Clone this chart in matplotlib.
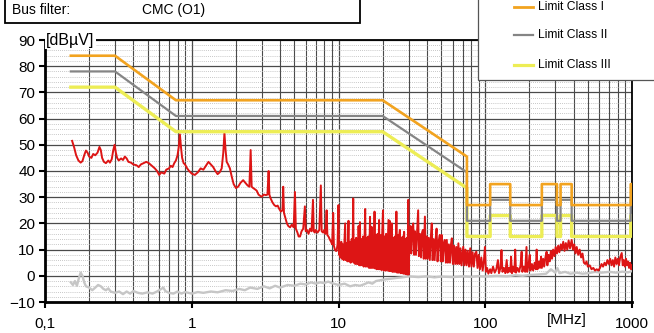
import numpy as np
import matplotlib
matplotlib.use("Agg")
import matplotlib.pyplot as plt
from matplotlib.ticker import FixedLocator, FixedFormatter, LogLocator, MultipleLocator, NullFormatter
from matplotlib.patches import Rectangle
from matplotlib.lines import Line2D

plt.rcParams['font.family'] = ['Liberation Sans', 'DejaVu Sans']

# ---------------- data ----------------
x_ticks = [0.1, 1, 10, 100, 1000]
x_tick_labels = ["0,1", "1", "10", "100", "1000"]
y_ticks = list(range(-10, 91, 10))

# Limit lines (MHz, dBuV)
lim1_f = [0.15, 0.3, 0.78, 20, 75, 75, 108, 108, 148, 148, 243, 243, 308, 308, 326, 326, 388, 388, 980, 980, 1000]
lim1_v = [84, 84, 67, 67, 45.5, 27, 27, 35, 35, 27, 27, 35, 35, 27, 27, 35, 35, 27, 27, 35, 35]
lim2_f = lim1_f
lim2_v = [78, 78, 61, 61, 39.5, 21, 21, 29, 29, 21, 21, 29, 29, 21, 21, 29, 29, 21, 21, 29, 29]
lim3_f = lim1_f
lim3_v = [72, 72, 55, 55, 33.5, 15, 15, 23, 23, 15, 15, 23, 23, 15, 15, 23, 23, 15, 15, 23, 23]

# Measured spectrum (red)
red_f = [
    0.153, 0.158, 0.163, 0.169, 0.175, 0.18, 0.185, 0.19, 0.195, 0.2, 0.207, 0.213, 0.22, 0.228, 0.235, 0.24,
    0.245, 0.252, 0.26, 0.27, 0.277, 0.285, 0.292, 0.298, 0.304, 0.31, 0.318, 0.33, 0.34, 0.35, 0.36, 0.37,
    0.385, 0.4, 0.42, 0.435, 0.45, 0.47, 0.49, 0.51, 0.535, 0.56, 0.58, 0.6, 0.62, 0.65, 0.67, 0.7, 0.72, 0.74,
    0.76, 0.78, 0.8, 0.815, 0.83, 0.845, 0.86, 0.88, 0.9, 0.93, 0.96, 1.0, 1.05, 1.1, 1.15, 1.2, 1.25, 1.3,
    1.35, 1.4, 1.45, 1.5, 1.55, 1.6, 1.64, 1.67, 1.7, 1.73, 1.77, 1.82, 1.87, 1.93, 2.0, 2.07, 2.15, 2.24,
    2.32, 2.4, 2.47, 2.52, 2.56, 2.62, 2.7, 2.77, 2.85, 2.93, 3.0, 3.1, 3.2, 3.28, 3.34, 3.38, 3.45, 3.55,
    3.65, 3.75, 3.85, 3.95, 4.05, 4.15, 4.2, 4.25, 4.35, 4.45, 4.55, 4.68, 4.8, 4.95, 5.05, 5.12, 5.25, 5.35,
    5.47, 5.6, 5.75, 5.9, 5.98, 6.1, 6.25, 6.4, 6.55, 6.7, 6.78, 6.9, 7.0, 7.2, 7.4, 7.58, 7.68, 7.85, 8.0,
    8.15, 8.3, 8.4, 8.55, 8.7, 8.9, 9.05, 9.2, 9.3, 9.45, 9.6,
    9.7, 9.85, 10.0, 10.08, 10.2, 10.3, 10.45, 10.55, 10.7, 10.85, 11.1, 11.2, 11.35, 11.5, 11.7, 11.8,
    11.95, 12.1, 12.3, 12.45, 12.6, 12.7, 12.85, 13.0, 13.2, 13.35, 13.5, 13.6, 13.7, 13.85, 14.0, 14.15,
    14.35, 14.5, 14.7, 14.85, 15.05, 15.2, 15.35, 15.55, 15.75, 15.95, 16.15, 16.4, 16.55, 16.8, 16.95,
    17.2, 17.4, 17.6, 17.75, 18.0, 18.2, 18.45, 18.65, 18.9, 19.1, 19.35, 19.6, 19.85, 20.1, 20.3, 20.6,
    20.85, 21.1, 21.4, 21.9, 22.1, 22.3, 22.6, 22.9, 23.1, 23.3, 23.6, 23.9, 24.2, 24.5, 24.8, 25.1, 25.4,
    25.7, 26.0, 26.2, 26.5, 26.8, 27.1, 27.4, 27.7, 28.0, 28.3, 28.6, 28.9, 29.2, 29.5, 29.9, 30.0,
    30.2, 30.5, 30.9, 31.3, 31.8, 32.3, 32.7, 33.2, 33.7, 34.3, 34.9, 35.3, 35.9, 36.5, 37.1, 37.6, 38.1,
    38.8, 39.3, 39.9, 40.5, 41.2, 41.9, 42.6, 43.2, 43.8, 44.5, 45.2, 46.0, 46.6, 47.3, 48.1, 49.0, 49.8,
    50.5, 51.3, 52.2, 53.0, 53.9, 54.7, 55.6, 56.5, 57.5, 58.4, 59.2, 60.2, 61.3, 62.4, 63.5, 64.5, 65.6,
    66.7, 67.8, 69.0, 70.8, 72.0, 73.3, 74.6, 76.0, 77.5, 79.0, 80.5, 82.0, 83.6, 85.2, 87.0, 88.6, 90.3,
    92.0, 94.0, 96.0, 98.0, 99.5,
    101, 103, 105, 108, 110, 113, 116, 119, 122, 124, 127, 129, 131, 134, 137, 140, 142, 145, 148, 150,
    152, 155, 158, 160, 162, 166, 170, 174, 177, 179, 183, 187, 191, 193, 197, 201, 203, 208, 212, 217,
    221, 224, 227, 232, 236, 240, 243, 248, 252, 257, 262, 265, 270, 275, 280, 285, 290, 296, 302, 308,
    314, 320, 327, 333, 340, 347, 354, 362, 370, 378, 388, 396, 404, 412, 420, 430, 440, 450, 460, 470,
    480, 490, 500, 515, 530, 545, 560, 575, 590, 605, 620, 635, 650, 665, 680, 695, 710, 725, 740, 755,
    770, 785, 800, 815, 830, 851, 865, 880, 895, 910, 925, 940, 955, 970, 985, 1000]
red_v = [
    51.5, 49, 46, 44, 43.2, 43.8, 46, 47.8, 47, 45.5, 45, 46.5, 46, 47, 49.2, 48,
    45, 43.5, 43, 44, 43.2, 44.5, 48, 50, 47, 45, 44, 44.8, 44.2, 45.5, 44.8, 43.5,
    43.2, 42.5, 42.2, 41.5, 42.5, 43, 43.5, 43, 42, 41, 40, 38.5, 39.5, 39, 40.5, 41, 42, 41.5,
    43, 44, 46, 49, 54, 49, 45, 43, 42.5, 41, 40, 39, 38.5, 39.5, 41, 40.5, 42, 43.5,
    42.5, 41.5, 40, 38.8, 39.5, 41, 47, 54.5, 48, 43.5, 42.5, 41, 38, 35, 33.5, 34, 35.5, 36.5,
    35.5, 34.5, 34, 48, 34, 33.5, 33, 32.5, 31, 30.5, 30.2, 31, 30.8, 31, 40, 31, 29.5, 28,
    27, 26.5, 26.8, 25.5, 24.5, 25, 34, 24, 22, 20, 19, 18.5, 19.5, 18.5, 32, 18, 16.5, 15,
    15, 17, 18, 26.5, 17, 17.5, 16, 18, 17, 29, 17, 16.5, 17.5, 16.5, 17.5, 34.5, 17, 16.5, 17.5,
    16, 25, 15.5, 15, 14, 13, 12, 24, 11.5, 10, 9.5,
    9.5, 12, 27, 8, 12.5, 7, 13, 6.5, 12, 6, 20, 6, 12.5, 5.5, 21, 5.5,
    13, 5, 14, 5.5, 29.5, 5, 13.5, 4.5, 14.5, 4.5, 13, 4.5, 19, 4, 20.5, 4,
    14, 4, 15, 3.5, 14, 25.5, 3.5, 14.5, 3.5, 15, 3, 22.5, 3, 18.7, 3,
    15, 3, 24.5, 2.8, 15.5, 2.5, 16, 2.5, 21.3, 2.5, 15.5, 2.2, 16, 25, 2, 15,
    2, 16, 2, 21.3, 1.8, 21, 1.8, 15, 20, 1.5, 14.5, 1.5, 15, 1.5, 24.5, 1.2, 15.5,
    1.2, 16, 17.5, 1, 14.5, 1, 15, 0.8, 16.8, 0.8, 14, 0.6, 14.5, 0.5, 29, 0.5,
    17, 9, 19, 8.5, 18, 20, 8, 17, 8, 16.5, 25, 7.5, 16, 7, 16.5, 17.5, 6.5,
    22.6, 6.5, 15, 6.5, 14.5, 6, 15, 20, 6, 14, 6, 14.5, 18, 5.5, 13, 15.6, 5.5,
    15.6, 5.5, 12.5, 13.7, 5, 13.7, 5, 12, 5, 12, 14.3, 4.5, 11.5, 4.5, 11, 4.5, 12.4,
    4.5, 10.5, 4, 11.1, 4, 10, 4, 9.5, 3.5, 10.5, 3.5, 9, 3.5, 8.5, 9.2, 3, 8,
    2.5, 7, 2, 6, 11,
    1.5, 3, 0.8, 2.5, 1, 3.5, 1.2, 2.5, 6, 1, 3, 9.8, 1.5, 3, 1, 6, 1.2, 3, 1.5, 7.3,
    1, 3.5, 1.5, 10, 1.2, 3, 1.5, 4, 9.2, 1.5, 3.5, 1.5, 11, 1.5, 4, 8, 2, 4.5, 2, 5,
    2.5, 10, 2.5, 5.5, 3, 7.3, 3, 6.5, 3.5, 7, 9.2, 4, 8, 5.5, 9.5, 6.5, 10, 7.5, 11, 8.5,
    11.5, 9, 12, 10, 13, 9.5, 12.5, 10, 13.5, 10.5, 13.7, 10, 12, 8.5, 11, 8, 10, 7, 8.5, 5,
    4.5, 5.5, 3.5, 4, 2.5, 3, 2, 2.5, 2, 3, 4.5, 3.5, 5, 4, 6, 4.5, 6.5, 4, 6, 3.5,
    7, 4.5, 6.5, 4, 7, 8.7, 4, 6, 3.5, 6.5, 4, 5.5, 3, 5, 2.5, 4]

# Noise floor (light grey)
gray_f = [0.15, 0.155, 0.16, 0.165, 0.17, 0.175, 0.18, 0.185, 0.19, 0.2, 0.21, 0.22, 0.23, 0.24, 0.25, 0.26,
          0.27, 0.28, 0.3, 0.32, 0.34, 0.36, 0.38, 0.4, 0.43, 0.46, 0.5, 0.54, 0.58, 0.62, 0.64, 0.66, 0.7,
          0.75, 0.8, 0.85, 0.9, 1.0, 1.1, 1.2, 1.35, 1.5, 1.7, 1.9, 2.1, 2.3, 2.5, 2.8, 3.1, 3.4, 3.7, 4.0,
          4.5, 5.0, 5.5, 6.0, 6.5, 7.0, 7.5, 8.0, 8.5, 9.0, 10, 11, 12, 13, 14, 15, 16, 17, 18, 20, 22, 25,
          28, 30, 35, 40, 45, 50, 60, 70, 80, 90, 100, 120, 140, 160, 180, 200, 230, 260, 280, 300, 310, 320,
          350, 380, 420, 460, 500, 560, 620, 700, 780, 860, 940, 1000]
gray_v = [-2.5, -3.5, -2, -3.8, -1, 1.2, 0, -2.5, -4, -4.5, -5.5, -4.5, -3.5, -4, -5, -5.5,
          -4.8, -6, -6.5, -6, -7, -6, -6.8, -5.8, -6.5, -6.8, -6.3, -6.8, -6, -5, -4.5, -5.8, -6.5,
          -6.8, -6, -6.8, -6.2, -6.8, -6.2, -6.5, -6, -6.3, -5.5, -5.8, -5, -5.5, -4.5, -5, -4, -4.8, -3.8, -4.5,
          -3.5, -3.8, -3, -3.3, -2.5, -3, -2.5, -2.8, -2.2, -2.8, -3.5, -3, -4, -3.5, -3.8, -3.2, -2.5, -3, -2, -1.5, -1.2, -0.8,
          -0.5, -0.2, -0.5, -0.2, -0.6, -0.3, -0.5, -0.2, -0.4, -0.1, -0.3, 0, -0.2, 0.2, 0, 0.3, 0.5, 0.8, 2.5, 1.2, 3, 1,
          1.5, 0.8, 1.2, 0.8, 1, 1.5, 1.2, 1.5, 1.2, 1.6, 1.3, 1.8]

legend_labels = ["Limit Class I", "Limit Class II", "Limit Class III"]
header_label = "Bus filter:"
header_value = "CMC (O1)"

# ---------------- figure ----------------
W, H = 654, 333
fig = plt.figure(figsize=(W / 100, H / 100), dpi=100)
def fx(px): return px / W
def fy(py): return 1 - py / H

ax = fig.add_axes([fx(45), fy(302), fx(632) - fx(45), fy(40) - fy(302)])
ax.set_xscale('log')
ax.set_xlim(0.1, 1000)
ax.set_ylim(-10, 90)

c_orange = '#F2A31F'
c_gray = '#858585'
c_yellow = '#EDED55'
c_red = '#DD1515'
c_noise = '#C6C6C6'

ax.plot(gray_f, gray_v, color=c_noise, lw=1.7, zorder=3)
ax.plot(red_f, red_v, color=c_red, lw=1.4, zorder=4)
ax.plot(lim3_f, lim3_v, color=c_yellow, lw=2.4, zorder=5, solid_joinstyle='round')
ax.plot(lim2_f, lim2_v, color=c_gray, lw=1.6, zorder=6)
ax.plot(lim1_f, lim1_v, color=c_orange, lw=1.9, zorder=7)

ax.xaxis.set_major_locator(FixedLocator(x_ticks))
ax.xaxis.set_major_formatter(FixedFormatter(x_tick_labels))
ax.xaxis.set_minor_locator(LogLocator(base=10, subs=np.arange(2, 10), numticks=20))
ax.xaxis.set_minor_formatter(NullFormatter())
ax.yaxis.set_major_locator(FixedLocator(y_ticks))
ax.yaxis.set_minor_locator(MultipleLocator(2))

ax.grid(which='major', axis='both', color='#4a4a4a', lw=0.9, zorder=0)
ax.grid(which='minor', axis='x', color='#4a4a4a', lw=0.8)
ax.grid(which='minor', axis='y', color='#b5b5b5', lw=0.6, ls=(0, (1, 1.5)))
ax.set_axisbelow(True)

ax.tick_params(which='major', axis='both', direction='out', length=4, width=1.5, labelsize=11, color='black')
ax.tick_params(which='major', axis='x', pad=7)
ax.tick_params(which='major', axis='y', pad=3)
ax.tick_params(which='minor', length=0)

for s in ['left', 'bottom']:
    ax.spines[s].set_linewidth(2.0)
for s in ['top', 'right']:
    ax.spines[s].set_linewidth(1.3)

# axis unit labels
ax.text(0.102, 90, "[dBµV]", fontsize=11.5, va='center', ha='left', zorder=10,
        bbox=dict(facecolor='white', edgecolor='none', pad=1.0), clip_on=False)
ax.text(360, -14.2, "[MHz]", fontsize=11, va='top', ha='center', clip_on=False)

# header box (top-left)
fig.add_artist(Rectangle((fx(5), fy(23)), fx(360) - fx(5), 0.2, facecolor='white',
                         edgecolor='black', lw=1.3, zorder=20))
fig.text(fx(12), fy(10), header_label, fontsize=10, va='center', ha='left', zorder=21)
fig.text(fx(142), fy(10), header_value, fontsize=10, va='center', ha='left', zorder=21)

# legend box (top-right)
fig.add_artist(Rectangle((fx(478), fy(80)), 0.5, 0.5, facecolor='white',
                         edgecolor='#555555', lw=0.9, zorder=20))
leg_colors = [c_orange, c_gray, c_yellow]
leg_lw = [2.0, 1.6, 2.3]
leg_y = [7, 35, 65]
for lab, col, lw_, yy in zip(legend_labels, leg_colors, leg_lw, leg_y):
    fig.add_artist(Line2D([fx(514), fx(533)], [fy(yy), fy(yy)], color=col, lw=lw_, zorder=21))
    fig.text(fx(538), fy(yy), lab, fontsize=8.7, va='center', ha='left', zorder=21)

fig.savefig("out.png", dpi=100)
